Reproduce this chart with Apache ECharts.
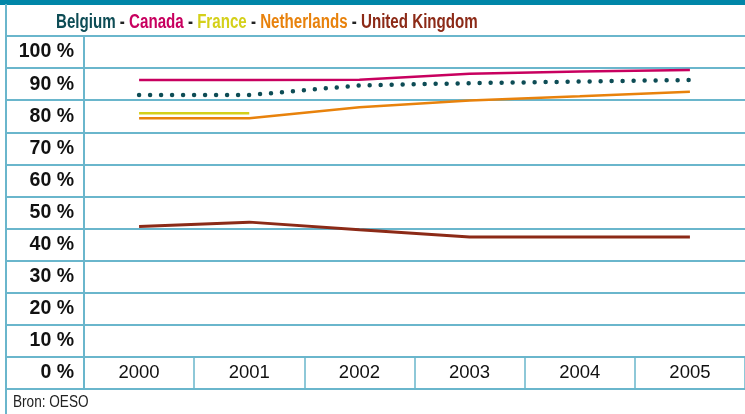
<!DOCTYPE html>
<html>
<head>
<meta charset="utf-8">
<script src="https://cdn.jsdelivr.net/npm/echarts@6/dist/echarts.min.js"></script>
<style>html,body{margin:0;padding:0;background:#fff}#c{width:745px;height:414px}</style>
</head>
<body>
<div id="c"></div>
<script>
const years = ['2000', '2001', '2002', '2003', '2004', '2005'];
const yLabels = ['0 %', '10 %', '20 %', '30 %', '40 %', '50 %', '60 %', '70 %', '80 %', '90 %', '100 %'];
const belgium = [86.6, 86.6, 89.6, 90.3, 90.8, 91.3];
const canada = [91.3, 91.3, 91.4, 93.2, 93.9, 94.4];
const france = [80.9, 80.9, null, null, null, null];
const netherlands = [79.4, 79.4, 82.8, 84.9, 86.2, 87.6];
const uk = [45.6, 47.0, 44.6, 42.4, 42.4, 42.4];

const C = {be: '#0d4c55', ca: '#c8005f', fr: '#d4d01a', nl: '#e8820c', uk: '#8c2a17'};
const gridColor = '#6ab6cc';
const F = 'Liberation Sans, Arial, sans-serif';
function rs(c) { return {fill: c, color: c, fontFamily: F, fontWeight: 'bold', fontSize: 20}; }

const chart = echarts.init(document.getElementById('c'));
chart.setOption({
  animation: false,
  graphic: [
    {type: 'rect', shape: {x: 0, y: 0, width: 745, height: 5}, style: {fill: '#0086a8'}, silent: true},
    {type: 'line', shape: {x1: 6, y1: 4, x2: 6, y2: 414}, style: {stroke: gridColor, lineWidth: 2}, silent: true},
    {type: 'text', x: 56, y: 22, scaleX: 0.756, silent: true,
     style: {
       text: '{be|Belgium} - {ca|Canada} - {fr|France} - {nl|Netherlands} - {uk|United Kingdom}',
       fontFamily: F, fontWeight: 'bold', fontSize: 20, fill: '#222', verticalAlign: 'middle', align: 'left',
       rich: {be: rs(C.be), ca: rs(C.ca), fr: rs(C.fr), nl: rs(C.nl), uk: rs(C.uk)}
     }},
    {type: 'text', x: 13, y: 403, scaleX: 0.85, silent: true,
     style: {text: 'Bron: OESO', fontFamily: F, fontSize: 16, fill: '#222', verticalAlign: 'middle', align: 'left'}}
  ],
  grid: [
    {left: 6, top: 36, width: 78, height: 353},
    {left: 84, top: 36, width: 672, height: 353}
  ],
  xAxis: [
    {gridIndex: 0, type: 'value', min: 0, max: 1,
     axisLine: {show: true, onZero: false, lineStyle: {color: gridColor, width: 2}},
     axisTick: {show: false}, axisLabel: {show: false}, splitLine: {show: false}},
    {gridIndex: 1, type: 'category', data: years, boundaryGap: true, position: 'bottom',
     axisLine: {show: true, onZero: false, lineStyle: {color: gridColor, width: 2}},
     axisTick: {show: true, inside: true, length: 32, interval: 0, lineStyle: {color: gridColor, width: 1.5}},
     axisLabel: {inside: true, margin: 16, verticalAlign: 'middle', color: '#111', fontFamily: F, fontSize: 18.5, interval: 0},
     splitLine: {show: false}}
  ],
  yAxis: [
    {gridIndex: 0, type: 'category', data: yLabels, position: 'right', boundaryGap: true,
     axisLine: {show: true, onZero: false, lineStyle: {color: gridColor, width: 2}},
     axisTick: {show: false},
     axisLabel: {inside: true, margin: 10, color: '#111', fontFamily: F, fontWeight: 'bold', fontSize: 19.5, interval: 0},
     splitLine: {show: true, interval: 0, lineStyle: {color: gridColor, width: 2}}},
    {gridIndex: 1, type: 'value', min: -5, max: 105, interval: 10,
     axisLine: {show: false, onZero: false}, axisTick: {show: false}, axisLabel: {show: false},
     splitLine: {show: true, lineStyle: {color: gridColor, width: 2}}}
  ],
  series: [
    {name: 'United Kingdom', type: 'line', xAxisIndex: 1, yAxisIndex: 1, data: uk, symbol: 'none',
     lineStyle: {color: C.uk, width: 3}},
    {name: 'Netherlands', type: 'line', xAxisIndex: 1, yAxisIndex: 1, data: netherlands, symbol: 'none',
     lineStyle: {color: C.nl, width: 2.5}},
    {name: 'France', type: 'line', xAxisIndex: 1, yAxisIndex: 1, data: france, symbol: 'none',
     lineStyle: {color: C.fr, width: 2.5}},
    {name: 'Canada', type: 'line', xAxisIndex: 1, yAxisIndex: 1, data: canada, symbol: 'none',
     lineStyle: {color: C.ca, width: 2.5}},
    {name: 'Belgium', type: 'line', xAxisIndex: 1, yAxisIndex: 1, data: belgium, symbol: 'none',
     lineStyle: {color: C.be, width: 4.5, type: [0, 11], cap: 'round'}}
  ]
});
</script>
</body>
</html>
